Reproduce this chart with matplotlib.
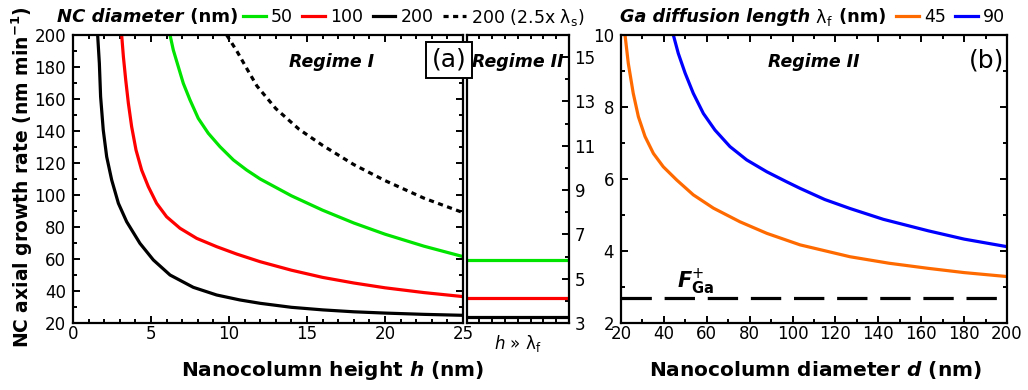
import matplotlib
matplotlib.use('Agg')
import matplotlib.pyplot as plt
from matplotlib.lines import Line2D
from matplotlib.ticker import MultipleLocator, NullLocator

plt.rcParams['font.family'] = 'DejaVu Sans'
plt.rcParams['mathtext.fontset'] = 'dejavusans'
plt.rcParams['mathtext.default'] = 'regular'

# (a) axial growth rate vs nanocolumn height, regime I
h_50 = [6.22, 6.43, 6.75, 7.07, 7.5, 8.03, 8.67, 9.42, 10.28, 11.13, 12.0,
        14.0, 16.0, 18.0, 20.0, 22.5, 25.0]
rate_50 = [200, 190.6, 180.2, 169.8, 159.4, 147.9, 138.6, 130.2, 121.9, 115.6, 110,
           99.5, 90.5, 82.5, 75.5, 68, 61.5]
h_100 = [3.12, 3.23, 3.38, 3.55, 3.76, 4.04, 4.40, 4.83, 5.36, 6.0, 6.86, 7.93,
         9.21, 10.49, 12.0, 14.0, 16.0, 18.0, 20.0, 22.5, 25.0]
rate_100 = [200, 186.5, 171.9, 157.3, 142.7, 128.1, 115.6, 105.2, 94.8, 86.4, 79.2, 72.9,
            67.7, 63.1, 58.3, 53, 48.5, 45, 42, 39, 36.5]
h_200 = [1.58, 1.69, 1.77, 1.94, 2.16, 2.48, 2.91, 3.44, 4.29, 5.15, 6.22, 7.71,
         9.21, 10.7, 12.0, 14.0, 16.0, 18.0, 20.0, 22.5, 25.0]
rate_200 = [200, 182.3, 161.5, 140.6, 123.9, 109.4, 94.8, 83.3, 69.8, 59.4, 50, 42.3,
            37.5, 34.4, 32.3, 29.8, 28.2, 27, 26.2, 25.4, 24.8]
h_200s = [9.85, 10.5, 11.2, 11.8, 13.0, 14.5, 16.0, 18.0, 20.0, 22.5, 25.0]
rate_200s = [200, 190, 178, 168, 154, 141, 131, 119, 109, 98, 89]

# regime II plateaus (h >> lambda_f), right-hand scale
plateau = [5.85, 4.13, 3.27]
diam_labels = ['50', '100', '200']
diam_colors = ['#00e400', '#ff0000', '#000000']

# (b) growth rate vs diameter, regime II
d_45 = [21.87, 23.4, 25.7, 28.1, 31.2, 35.1, 39.7, 46.0, 53.7, 63.1, 75.5, 88.0,
        103.5, 126.8, 145.0, 163.0, 180.0, 200.0]
rate_45 = [10.0, 9.21, 8.38, 7.73, 7.18, 6.71, 6.34, 5.97, 5.56, 5.19, 4.81, 4.49,
           4.17, 3.84, 3.66, 3.52, 3.4, 3.29]
d_90 = [44.4, 46.7, 49.9, 53.7, 58.4, 63.8, 70.8, 78.6, 88.0, 97.3, 103.5, 115.0,
        126.8, 142.3, 163.3, 180.0, 200.0]
rate_90 = [10.0, 9.49, 8.94, 8.38, 7.82, 7.36, 6.9, 6.53, 6.2, 5.92, 5.74, 5.43,
           5.18, 4.88, 4.56, 4.33, 4.12]
f_ga = 2.7

LW = 2.3


def style_axes(ax):
    for s in ax.spines.values():
        s.set_linewidth(1.6)
    ax.tick_params(which='both', direction='in', width=1.4, labelsize=12,
                   top=True, right=True)
    ax.tick_params(which='major', length=5)
    ax.tick_params(which='minor', length=2.6)
    ax.tick_params(axis='x', pad=1.5)
    ax.tick_params(axis='y', pad=5)


fig = plt.figure(figsize=(10.28, 3.9), dpi=100)
ax_a = fig.add_axes([0.0710, 0.1718, 0.3794, 0.7385])
ax_n = fig.add_axes([0.4538, 0.1718, 0.0997, 0.7385])
ax_b = fig.add_axes([0.6041, 0.1718, 0.3755, 0.7385])

# --- panel (a), regime I ---
ax_a.plot(h_50, rate_50, color=diam_colors[0], lw=LW)
ax_a.plot(h_100, rate_100, color=diam_colors[1], lw=LW)
ax_a.plot(h_200, rate_200, color=diam_colors[2], lw=LW)
ax_a.plot(h_200s, rate_200s, color='black', lw=LW, dashes=(1.6, 1.4))
ax_a.set_xlim(0, 25)
ax_a.set_ylim(20, 200)
ax_a.xaxis.set_major_locator(MultipleLocator(5))
ax_a.xaxis.set_minor_locator(MultipleLocator(1))
ax_a.yaxis.set_major_locator(MultipleLocator(20))
ax_a.yaxis.set_minor_locator(MultipleLocator(10))
style_axes(ax_a)
ax_a.text(0.662, 0.906, 'Regime I', transform=ax_a.transAxes, ha='center',
          va='center', fontsize=12.5, weight='bold', style='italic')

# --- panel (a), regime II strip ---
for lvl, c in zip(plateau, diam_colors):
    ax_n.axhline(lvl, color=c, lw=LW)
ax_n.set_xlim(0, 8)
ax_n.set_ylim(3, 16)
ax_n.xaxis.set_major_locator(NullLocator())
ax_n.xaxis.set_minor_locator(MultipleLocator(1))
ax_n.yaxis.set_major_locator(MultipleLocator(2, offset=1))
ax_n.yaxis.set_minor_locator(MultipleLocator(2))
style_axes(ax_n)
ax_n.tick_params(axis='y', which='both', left=False, right=True,
                 labelleft=False, labelright=True, pad=4)
ax_n.set_xlabel(r'$\it{h}$ » λ$_\mathregular{f}$', fontsize=12, labelpad=4)
ax_n.text(0.5, 0.906, 'Regime II', transform=ax_n.transAxes, ha='center',
          va='center', fontsize=12.5, weight='bold', style='italic')

fig.text(449 / 1028, 1 - 60 / 390, '(a)', ha='center', va='center', fontsize=18,
         bbox=dict(boxstyle='square,pad=0.24', fc='white', ec='black', lw=1.4))

# --- panel (b) ---
ax_b.plot(d_45, rate_45, color='#ff6a00', lw=LW)
ax_b.plot(d_90, rate_90, color='#0000ff', lw=LW)
ax_b.axhline(f_ga, color='black', lw=LW, dashes=(9.5, 4))
ax_b.set_xlim(20, 200)
ax_b.set_ylim(2, 10)
ax_b.xaxis.set_major_locator(MultipleLocator(20))
ax_b.xaxis.set_minor_locator(MultipleLocator(10))
ax_b.yaxis.set_major_locator(MultipleLocator(2))
ax_b.yaxis.set_minor_locator(MultipleLocator(1))
style_axes(ax_b)
ax_b.text(0.5, 0.906, 'Regime II', transform=ax_b.transAxes, ha='center',
          va='center', fontsize=12.5, weight='bold', style='italic')
ax_b.text(0.946, 0.913, '(b)', transform=ax_b.transAxes, ha='center',
          va='center', fontsize=18)
ax_b.text(46, 2.97, r'$\mathbfit{F}^{+}_{\mathbf{Ga}}$', fontsize=15,
          ha='left', va='baseline')

# axis titles
fig.text(22 / 1028, 1 - 177 / 390, r'NC axial growth rate (nm min$^{\mathbf{-1}}$)',
         rotation=90, ha='center', va='center', fontsize=13.5, weight='bold')
fig.text(333 / 1028, 1 - 370 / 390, r'Nanocolumn height $\mathbfit{h}$ (nm)',
         ha='center', va='center', fontsize=14.5, weight='bold')
fig.text(815 / 1028, 1 - 370 / 390, r'Nanocolumn diameter $\mathbfit{d}$ (nm)',
         ha='center', va='center', fontsize=14.5, weight='bold')

# legends above the panels
t_a = fig.text(57 / 1028, 1 - 17 / 390, 'NC diameter', ha='left', va='center',
               fontsize=13, weight='bold', style='italic')
ax_a.annotate(' (nm)', xy=(1, 0.5), xycoords=t_a, ha='left', va='center',
              fontsize=13, weight='bold', annotation_clip=False)
handles_a = [Line2D([], [], color=c, lw=LW) for c in diam_colors]
handles_a.append(Line2D([], [], color='black', lw=LW, dashes=(1.6, 1.4)))
labels_a = diam_labels + [r'200 (2.5x λ$_\mathregular{s}$)']
fig.legend(handles_a, labels_a, loc='center left',
           bbox_to_anchor=(243 / 1028, 1 - 17 / 390), ncol=4, frameon=False,
           fontsize=12.5, handlelength=1.3, handletextpad=0.3,
           columnspacing=0.55, borderpad=0, borderaxespad=0)

t_b = fig.text(620 / 1028, 1 - 17 / 390, 'Ga diffusion length', ha='left',
               va='center', fontsize=12.7, weight='bold', style='italic')
t_b2 = ax_b.annotate(r' λ$_\mathregular{f}$', xy=(1, 0.5), xycoords=t_b,
                     ha='left', va='center', fontsize=12.7,
                     annotation_clip=False)
ax_b.annotate(' (nm)', xy=(1, 0.5), xycoords=t_b2, ha='left', va='center',
              fontsize=12.7, weight='bold', annotation_clip=False)
handles_b = [Line2D([], [], color='#ff6a00', lw=LW),
             Line2D([], [], color='#0000ff', lw=LW)]
fig.legend(handles_b, ['45', '90'], loc='center left',
           bbox_to_anchor=(896 / 1028, 1 - 17 / 390), ncol=2, frameon=False,
           fontsize=12.5, handlelength=1.3, handletextpad=0.3,
           columnspacing=0.55, borderpad=0, borderaxespad=0)

fig.savefig('out.png', dpi=100)
